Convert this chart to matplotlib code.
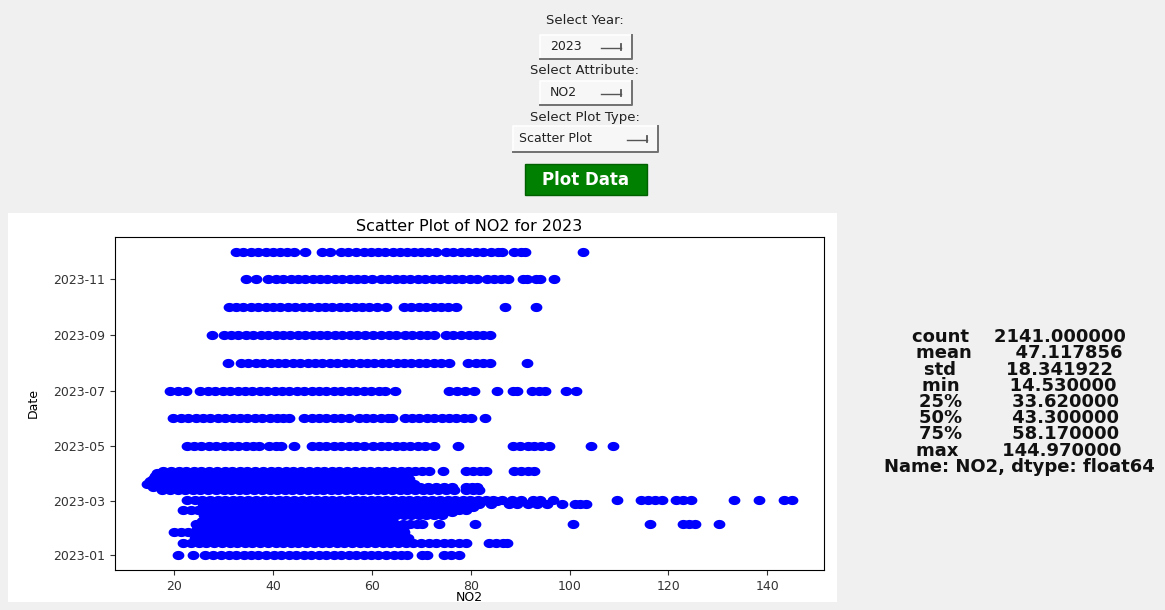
import numpy as np
import pandas as pd
import matplotlib
matplotlib.use("Agg")
import matplotlib.pyplot as plt
import matplotlib.dates as mdates
from matplotlib.ticker import MultipleLocator
from matplotlib.patches import Rectangle

# --- widget texts ---
year_choice = "2023"
attr_choice = "NO2"
plot_choice = "Scatter Plot"

# --- NO2 readings per date ---
no2_jan01 = [20.8, 23.8, 26.3, 27.9, 29.4, 31, 32.4, 34.1, 35.5, 37, 38.6, 40.1, 41.6, 43.2, 44.6, 46.3, 47.7,
             49.2, 50.8, 52.3, 53.7, 55.4, 56.8, 58.3, 59.9, 61.3, 62.9, 64.4, 65.8, 67.2, 70.2, 71.1, 74.6, 76.1, 77.6]
no2_jan14 = [21.8, 23.4, 25, 26.5, 28.1, 29.6, 31.2, 32.7, 34.3, 35.8, 37.4, 38.9, 40.5, 42, 43.6, 45.1, 46.7,
             48.2, 49.8, 51.3, 52.9, 54.4, 56, 57.5, 59.1, 60.6, 62.2, 63.7, 65.3, 66.8, 68.4, 69.9, 71.5, 73, 74.6,
             76.1, 77.7, 79.1, 83.6, 85.1, 86.5, 87.4]
no2_jan17 = [24.6, 26.1, 27.7, 29.2, 30.8, 32.3, 33.9, 35.4, 37, 38.5, 40.1, 41.6, 43.2, 44.7, 46.3, 47.8, 49.4,
             50.9, 52.5, 54, 55.6, 57.1, 58.7, 60.2, 61.8, 63.3, 64.9]
no2_jan20 = [24.1, 25.7, 27.2, 28.8, 30.3, 31.9, 33.4, 35, 36.5, 38.1, 39.6, 41.2, 42.7, 44.3, 45.8, 47.4, 48.9,
             50.5, 52, 53.6, 55.1, 56.7, 58.2, 59.8, 61.3, 62.9, 64.4, 66, 67.3]
no2_jan23 = [24.4, 26, 27.5, 29.1, 30.6, 32.2, 33.7, 35.3, 36.8, 38.4, 39.9, 41.5, 43, 44.6, 46.1, 47.7, 49.2,
             50.8, 52.3, 53.9, 55.4, 57, 58.5, 60.1, 61.6, 63.2]
no2_jan26 = [20, 21.4, 22.8, 24.9, 26.4, 28, 29.5, 31.1, 32.6, 34.2, 35.7, 37.3, 38.8, 40.4, 41.9, 43.5, 45,
             46.6, 48.1, 49.7, 51.2, 52.8, 54.3, 55.9, 57.4, 59, 60.5, 62.1, 63.6, 65.2, 66.4]
no2_jan29 = [24.7, 26.2, 27.8, 29.3, 30.9, 32.4, 34, 35.5, 37.1, 38.6, 40.2, 41.7, 43.3, 44.8, 46.4, 47.9, 49.5,
             51, 52.6, 54.1, 55.7, 57.2, 58.8, 60.3, 61.9, 63.4, 65, 66.2]
no2_feb01 = [25.2, 26.7, 28.3, 29.8, 31.4, 32.9, 34.5, 36, 37.6, 39.1, 40.7, 42.2, 43.8, 45.3, 46.9, 48.4, 50,
             51.5, 53.1, 54.6, 56.2, 57.7, 59.3, 60.8, 62.4, 63.9]
no2_feb04 = [24.3, 25.9, 27.4, 29, 30.5, 32.1, 33.6, 35.2, 36.7, 38.3, 39.8, 41.4, 42.9, 44.5, 46, 47.6, 49.1,
             50.7, 52.2, 53.8, 55.3, 56.9, 58.4, 60, 61.5, 63.1, 64.6, 66.2, 67.7, 69.2, 70.2, 73.6, 80.8, 100.6,
             116.3, 122.9, 124.2, 125.4, 130.3]
no2_feb07 = [25.6, 27.1, 28.7, 30.2, 31.8, 33.3, 34.9, 36.4, 38, 39.5, 41.1, 42.6, 44.2, 45.7, 47.3, 48.8, 50.4,
             51.9, 53.5, 55, 56.6, 58.1, 59.7, 61.2, 62.8, 64.1]
no2_feb14 = [26.1, 27.6, 29.2, 30.7, 32.3, 33.8, 35.4, 36.9, 38.5, 40, 41.6, 43.1, 44.7, 46.2, 47.8, 49.3, 50.9,
             52.4, 54, 55.5, 57.1, 58.6, 60.2, 61.7, 63.3, 64.8, 66.4, 67.9, 69.5, 71, 72.6, 74.1]
no2_feb17 = [26.6, 28.1, 29.7, 31.2, 32.8, 34.3, 35.9, 37.4, 39, 40.5, 42.1, 43.6, 45.2, 46.7, 48.3, 49.8, 51.4,
             52.9, 54.5, 56, 57.6, 59.1, 60.7, 62.2, 63.8, 65.3, 66.9, 68.4, 70, 71.5, 73.1, 74.6, 76.2]
no2_feb20 = [21.8, 23.3, 24.9, 26.4, 28, 29.5, 31.1, 32.6, 34.2, 35.7, 37.3, 38.8, 40.4, 41.9, 43.5, 45, 46.6,
             48.1, 49.7, 51.2, 52.8, 54.3, 55.9, 57.4, 59, 60.5, 62.1, 63.6, 65.2, 66.7, 68.3, 69.8, 71.4, 72.9,
             74.5, 76, 77.6, 79.1]
no2_feb23 = [26.3, 27.8, 29.4, 30.9, 32.5, 34, 35.6, 37.1, 38.7, 40.2, 41.8, 43.3, 44.9, 46.4, 48, 49.5, 51.1,
             52.6, 54.2, 55.7, 57.3, 58.8, 60.4, 61.9, 63.5, 65, 66.6, 68.1, 69.7, 71.2, 72.8, 74.3, 75.9, 77.4,
             79, 80.5]
no2_feb26 = [25.9, 27.4, 29, 30.5, 32.1, 33.6, 35.2, 36.7, 38.3, 39.8, 41.4, 42.9, 44.5, 46, 47.6, 49.1, 50.7,
             52.2, 53.8, 55.3, 56.9, 58.4, 60, 61.5, 63.1, 64.6, 66.2, 67.7, 69.3, 70.8, 72.4, 73.9, 75.5, 77,
             78.6, 80.1, 81.7, 84.1, 87.7, 89.3, 91.6, 93.5, 95.4, 98.4, 101, 102.2, 103.4]
no2_mar01 = [26.4, 27.9, 29.5, 31, 32.6, 34.1, 35.7, 37.2, 38.8, 40.3, 41.9, 43.4, 45, 46.5, 48.1, 49.6, 51.2,
             52.7, 54.3, 55.8, 57.4, 58.9, 60.5, 62, 63.6, 65.1, 66.7, 68.2, 69.8, 71.3, 72.9, 74.4, 76, 77.5,
             79.1, 80.6, 82.2, 83.7, 85.3]
no2_mar03 = [22.6, 24.1, 25.7, 27.2, 28.8, 30.3, 31.9, 33.4, 35, 36.5, 38.1, 39.6, 41.2, 42.7, 44.3, 45.8, 47.4,
             48.9, 50.5, 52, 53.6, 55.1, 56.7, 58.2, 59.8, 61.3, 62.9, 64.4, 66, 67.5, 69.1, 70.6, 72.2, 73.7,
             75.3, 76.8, 78.4, 79.9, 81.5, 83, 84.6, 86.3, 88.4, 90.1, 92.7, 94.1, 96.6, 109.7, 114.5, 115.9,
             117.2, 118.8, 121.6, 123, 124.6, 133.3, 138.4, 143.4, 144.97]
no2_mar14 = [17.6, 19.1, 20.7, 22.2, 23.8, 25.3, 26.9, 28.4, 30, 31.5, 33.1, 34.6, 36.2, 37.7, 39.3, 40.8, 42.4,
             43.9, 45.5, 47, 48.6, 50.1, 51.7, 53.2, 54.8, 56.3, 57.9, 59.4, 61, 62.5, 64.1, 65.6, 67.2, 68.7,
             70.3, 71.8, 73.4, 74.9, 76.6, 79, 80.4, 81.7]
no2_mar17 = [15.6, 17.1, 18.7, 20.2, 21.8, 23.3, 24.9, 26.4, 28, 29.5, 31.1, 32.6, 34.2, 35.7, 37.3, 38.8, 40.4,
             41.9, 43.5, 45, 46.6, 48.1, 49.7, 51.2, 52.8, 54.3, 55.9, 57.4, 59, 60.5, 62.1, 63.6, 65.2, 66.7,
             68.3, 69.8, 71.4, 72.9, 74.5, 76.2, 79, 80.2, 81.3]
no2_mar20 = [14.53, 16, 17.6, 19.1, 20.7, 22.2, 23.8, 25.3, 26.9, 28.4, 30, 31.5, 33.1, 34.6, 36.2, 37.7, 39.3,
             40.8, 42.4, 43.9, 45.5, 47, 48.6, 50.1, 51.7, 53.2, 54.8, 56.3, 57.9, 59.4, 61, 62.5, 64.1, 65.6,
             67.2, 68.5]
no2_mar23 = [15.1, 16.6, 18.2, 19.7, 21.3, 22.8, 24.4, 25.9, 27.5, 29, 30.6, 32.1, 33.7, 35.2, 36.8, 38.3, 39.9,
             41.4, 43, 44.5, 46.1, 47.6, 49.2, 50.7, 52.3, 53.8, 55.4, 56.9, 58.5, 60, 61.6, 63.1, 64.5]
no2_mar26 = [15.6, 17.1, 18.7, 20.2, 21.8, 23.3, 24.9, 26.4, 28, 29.5, 31.1, 32.6, 34.2, 35.7, 37.3, 38.8, 40.4,
             41.9, 43.5, 45, 46.6, 48.1, 49.7, 51.2, 52.8, 54.3, 55.9, 57.4, 59, 60.5, 62.1, 63.6, 65.2, 66.5, 67.6]
no2_mar29 = [16.1, 17.6, 19.2, 20.7, 22.3, 23.8, 25.4, 26.9, 28.5, 30, 31.6, 33.1, 34.7, 36.2, 37.8, 39.3, 40.9,
             42.4, 44, 45.5, 47.1, 48.6, 50.2, 51.7, 53.3, 54.8, 56.4, 57.9, 59.5, 61, 62.6, 63.9]
no2_apr01 = [16.6, 18.1, 19.7, 21.2, 22.8, 24.3, 25.9, 27.4, 29, 30.5, 32.1, 33.6, 35.2, 36.7, 38.3, 39.8, 41.4,
             42.9, 44.5, 46, 47.6, 49.1, 50.7, 52.2, 53.8, 55.3, 56.9, 58.4, 60, 61.5, 63.1, 64.6, 66, 67.4]
no2_apr04 = [17.8, 19.3, 20.9, 22.4, 24, 25.5, 27.1, 28.6, 30.2, 31.7, 33.3, 34.8, 36.4, 37.9, 39.5, 41, 42.6,
             44.1, 45.7, 47.2, 48.8, 50.3, 51.9, 53.4, 55, 56.5, 58.1, 59.6, 61.2, 62.7, 64.3, 65.8, 67.3, 68.8,
             70.2, 71.5, 74.4, 79.1, 80.5, 81.9, 83.1, 88.7, 90.2, 91.6, 92.9]
no2_may01 = [22.5, 24, 25.5, 27, 28.5, 30, 31.5, 33, 34.5, 36, 37.2, 39.2, 40.5, 41.7, 44.2, 47.8, 49.3, 50.8,
             52.3, 53.8, 55.3, 56.8, 58.5, 60.3, 61.8, 63.3, 64.8, 66.3, 67.8, 69.3, 70.8, 72.6, 77.5, 88.6, 90,
             91.5, 92.8, 94.3, 95.8, 104.4, 108.7]
no2_jun01 = [19.8, 21.3, 22.8, 24.3, 25.8, 27.3, 28.8, 30.3, 31.8, 33.3, 34.8, 36.3, 37.8, 39.3, 40.8, 42, 43.2,
             46.3, 47.8, 49.3, 50.8, 52.3, 53.8, 55.3, 57.3, 58.8, 60.3, 61.8, 63.3, 64, 66.6, 68.1, 69.6, 71.1,
             72.6, 74.1, 75.6, 77.1, 78.6, 80, 82.8]
no2_jul01 = [19.2, 20.8, 22.4, 25.3, 26.8, 28.3, 29.8, 31.3, 32.8, 34.3, 35.8, 37.3, 38.8, 40.3, 41.8, 43.3, 44.8,
             46.3, 47.8, 49.3, 50.8, 52.3, 53.8, 55.3, 56.8, 58.3, 59.8, 61.5, 62.7, 64.6, 75.6, 77.2, 78.8, 80.6,
             85.3, 88.6, 89.4, 92.4, 93.8, 95, 99.2, 101.3]
no2_aug01 = [30.8, 33.5, 35, 36.5, 38, 39.5, 41, 42.5, 44, 45.5, 47, 48.5, 50, 51.5, 53, 54.5, 56, 57.5, 59,
             60.5, 62, 63.5, 65, 66.5, 68, 69.5, 71, 72.5, 74, 75.6, 79.5, 81, 82.5, 83.8, 91.3]
no2_sep01 = [27.7, 30, 31.5, 33, 34.5, 36, 37.5, 39, 40.5, 42, 43.5, 45, 46.5, 48, 49.5, 51, 52.5, 54, 55.5, 57,
             58.6, 60.2, 61.8, 63.4, 64.8, 66.6, 68.2, 69.8, 71.2, 72.5, 75, 76.5, 78, 79.6, 81, 82.5, 83.8]
no2_oct01 = [31, 32.5, 34, 35.5, 37, 38.5, 40, 41.5, 43, 44.5, 46, 47.5, 49, 50.5, 52, 53.5, 55, 56.5, 58, 59.5,
             61, 62.8, 66.5, 68, 69.5, 71, 72.5, 74, 75.5, 77, 87, 93.2]
no2_nov01 = [34.5, 36.5, 39, 40.5, 42, 43.6, 45, 46.5, 48, 49.5, 51, 52.5, 54, 55.5, 57, 58.5, 60, 61.8, 63.3,
             64.8, 66.3, 67.8, 69.3, 70.8, 72.3, 73.8, 75.3, 76.8, 78.3, 79.8, 81.2, 83.2, 84.7, 86.2, 87.5, 90.6,
             91.3, 93.2, 94, 96.8]
no2_dec01 = [32.5, 34, 35.6, 37, 38.5, 40, 41.5, 42.8, 44.3, 46.4, 49.8, 51.6, 53.8, 55.2, 56.8, 58.3, 59.8,
             61.2, 62.7, 64.2, 65.7, 67.1, 68.6, 70, 71.4, 72.9, 75, 76.5, 78, 79.5, 81, 82.4, 84, 85.5, 86.4,
             88.8, 90.2, 91, 102.8]

row_dates = ["2023-01-01", "2023-01-14", "2023-01-17", "2023-01-20", "2023-01-23", "2023-01-26",
             "2023-01-29", "2023-02-01", "2023-02-04", "2023-02-07", "2023-02-14", "2023-02-17",
             "2023-02-20", "2023-02-23", "2023-02-26", "2023-03-01", "2023-03-03", "2023-03-14",
             "2023-03-17", "2023-03-20", "2023-03-23", "2023-03-26", "2023-03-29", "2023-04-01",
             "2023-04-04", "2023-05-01", "2023-06-01", "2023-07-01", "2023-08-01", "2023-09-01",
             "2023-10-01", "2023-11-01", "2023-12-01"]
row_values = [no2_jan01, no2_jan14, no2_jan17, no2_jan20, no2_jan23, no2_jan26, no2_jan29, no2_feb01,
              no2_feb04, no2_feb07, no2_feb14, no2_feb17, no2_feb20, no2_feb23, no2_feb26, no2_mar01,
              no2_mar03, no2_mar14, no2_mar17, no2_mar20, no2_mar23, no2_mar26, no2_mar29, no2_apr01,
              no2_apr04, no2_may01, no2_jun01, no2_jul01, no2_aug01, no2_sep01, no2_oct01, no2_nov01,
              no2_dec01]

# describe() output shown next to the plot
stat_names = ["count", "mean", "std", "min", "25%", "50%", "75%", "max"]
stat_values = [2141.0, 47.117856, 18.341922, 14.53, 33.62, 43.30, 58.17, 144.97]

# build the table
recs = []
for d, vals in zip(row_dates, row_values):
    for v in vals:
        recs.append((pd.Timestamp(d), v))
df = pd.DataFrame(recs, columns=["Date", "NO2"])

# --- figure / window background ---
fig = plt.figure(figsize=(11.65, 6.10), dpi=100, facecolor="#f0f0f0")
ui = fig.add_axes([0, 0, 1, 1], zorder=0)
ui.set_xlim(0, 1165)
ui.set_ylim(610, 0)
ui.axis("off")

# white canvas holding the plot
ui.add_patch(Rectangle((8, 213), 829, 389, fc="white", ec="none"))


def option_box(x0, x1, y0, y1, label, tx):
    ym = (y0 + y1) / 2
    ui.add_patch(Rectangle((x0, y0), x1 - x0, y1 - y0, fc="#f7f7f7", ec="none"))
    ui.plot([x0, x0, x1], [y1, y0, y0], color="white", lw=1.2)
    ui.plot([x0, x1, x1], [y1, y1, y0], color="#707070", lw=1.4)
    ui.text(tx, ym, label, fontsize=9, ha="left", va="center", color="#222222")
    ix = x1 - 11
    ui.plot([ix - 20, ix], [ym + 1, ym + 1], color="#555555", lw=1)
    ui.plot([ix, ix], [ym - 3, ym + 3], color="#555555", lw=1.3)


ui.text(585, 20, "Select Year:", fontsize=9.5, ha="center", va="center", color="#222222")
option_box(540, 632, 35, 59, year_choice, 550)
ui.text(585, 71, "Select Attribute:", fontsize=9.5, ha="center", va="center", color="#222222")
option_box(540, 632, 81, 105, attr_choice, 550)
ui.text(585, 117, "Select Plot Type:", fontsize=9.5, ha="center", va="center", color="#222222")
option_box(513, 658, 126, 152, plot_choice, 519)

ui.add_patch(Rectangle((525, 164), 122, 31, fc="#008000", ec="#006000", lw=1))
ui.text(586, 180, "Plot Data", fontsize=12, fontweight="bold", color="white", ha="center", va="center")

# describe() text, one label so lines stay together
lines = [f"{n:<5}{v:>15.6f}" for n, v in zip(stat_names, stat_values)]
lines.append(f"Name: {attr_choice}, dtype: float64")
ui.text(1019, 402, "\n".join(lines), fontsize=13, fontweight="bold", linespacing=0.87,
        ha="center", va="center", multialignment="center", color="#111111")

# --- scatter plot ---
theta = np.linspace(0, 2 * np.pi, 40)
ellipse = list(zip(np.cos(theta), 0.78 * np.sin(theta)))

ax = fig.add_axes([115 / 1165, 40 / 610, 709 / 1165, 333 / 610], zorder=1)
ax.scatter(df["NO2"], df["Date"], s=72, c="blue", marker=ellipse, linewidths=0)
ax.set_title(f"Scatter Plot of {attr_choice} for {year_choice}", fontsize=11.5, pad=4)
ax.set_xlabel(attr_choice, fontsize=9, labelpad=-1)
ax.set_ylabel("Date", fontsize=9, labelpad=10)
ax.xaxis.set_major_locator(MultipleLocator(20))
ax.yaxis.set_major_locator(mdates.MonthLocator(bymonth=[1, 3, 5, 7, 9, 11]))
ax.yaxis.set_major_formatter(mdates.DateFormatter("%Y-%m"))
ax.tick_params(labelsize=9, colors="#333333")

fig.savefig("out.png", dpi=100, facecolor=fig.get_facecolor())
